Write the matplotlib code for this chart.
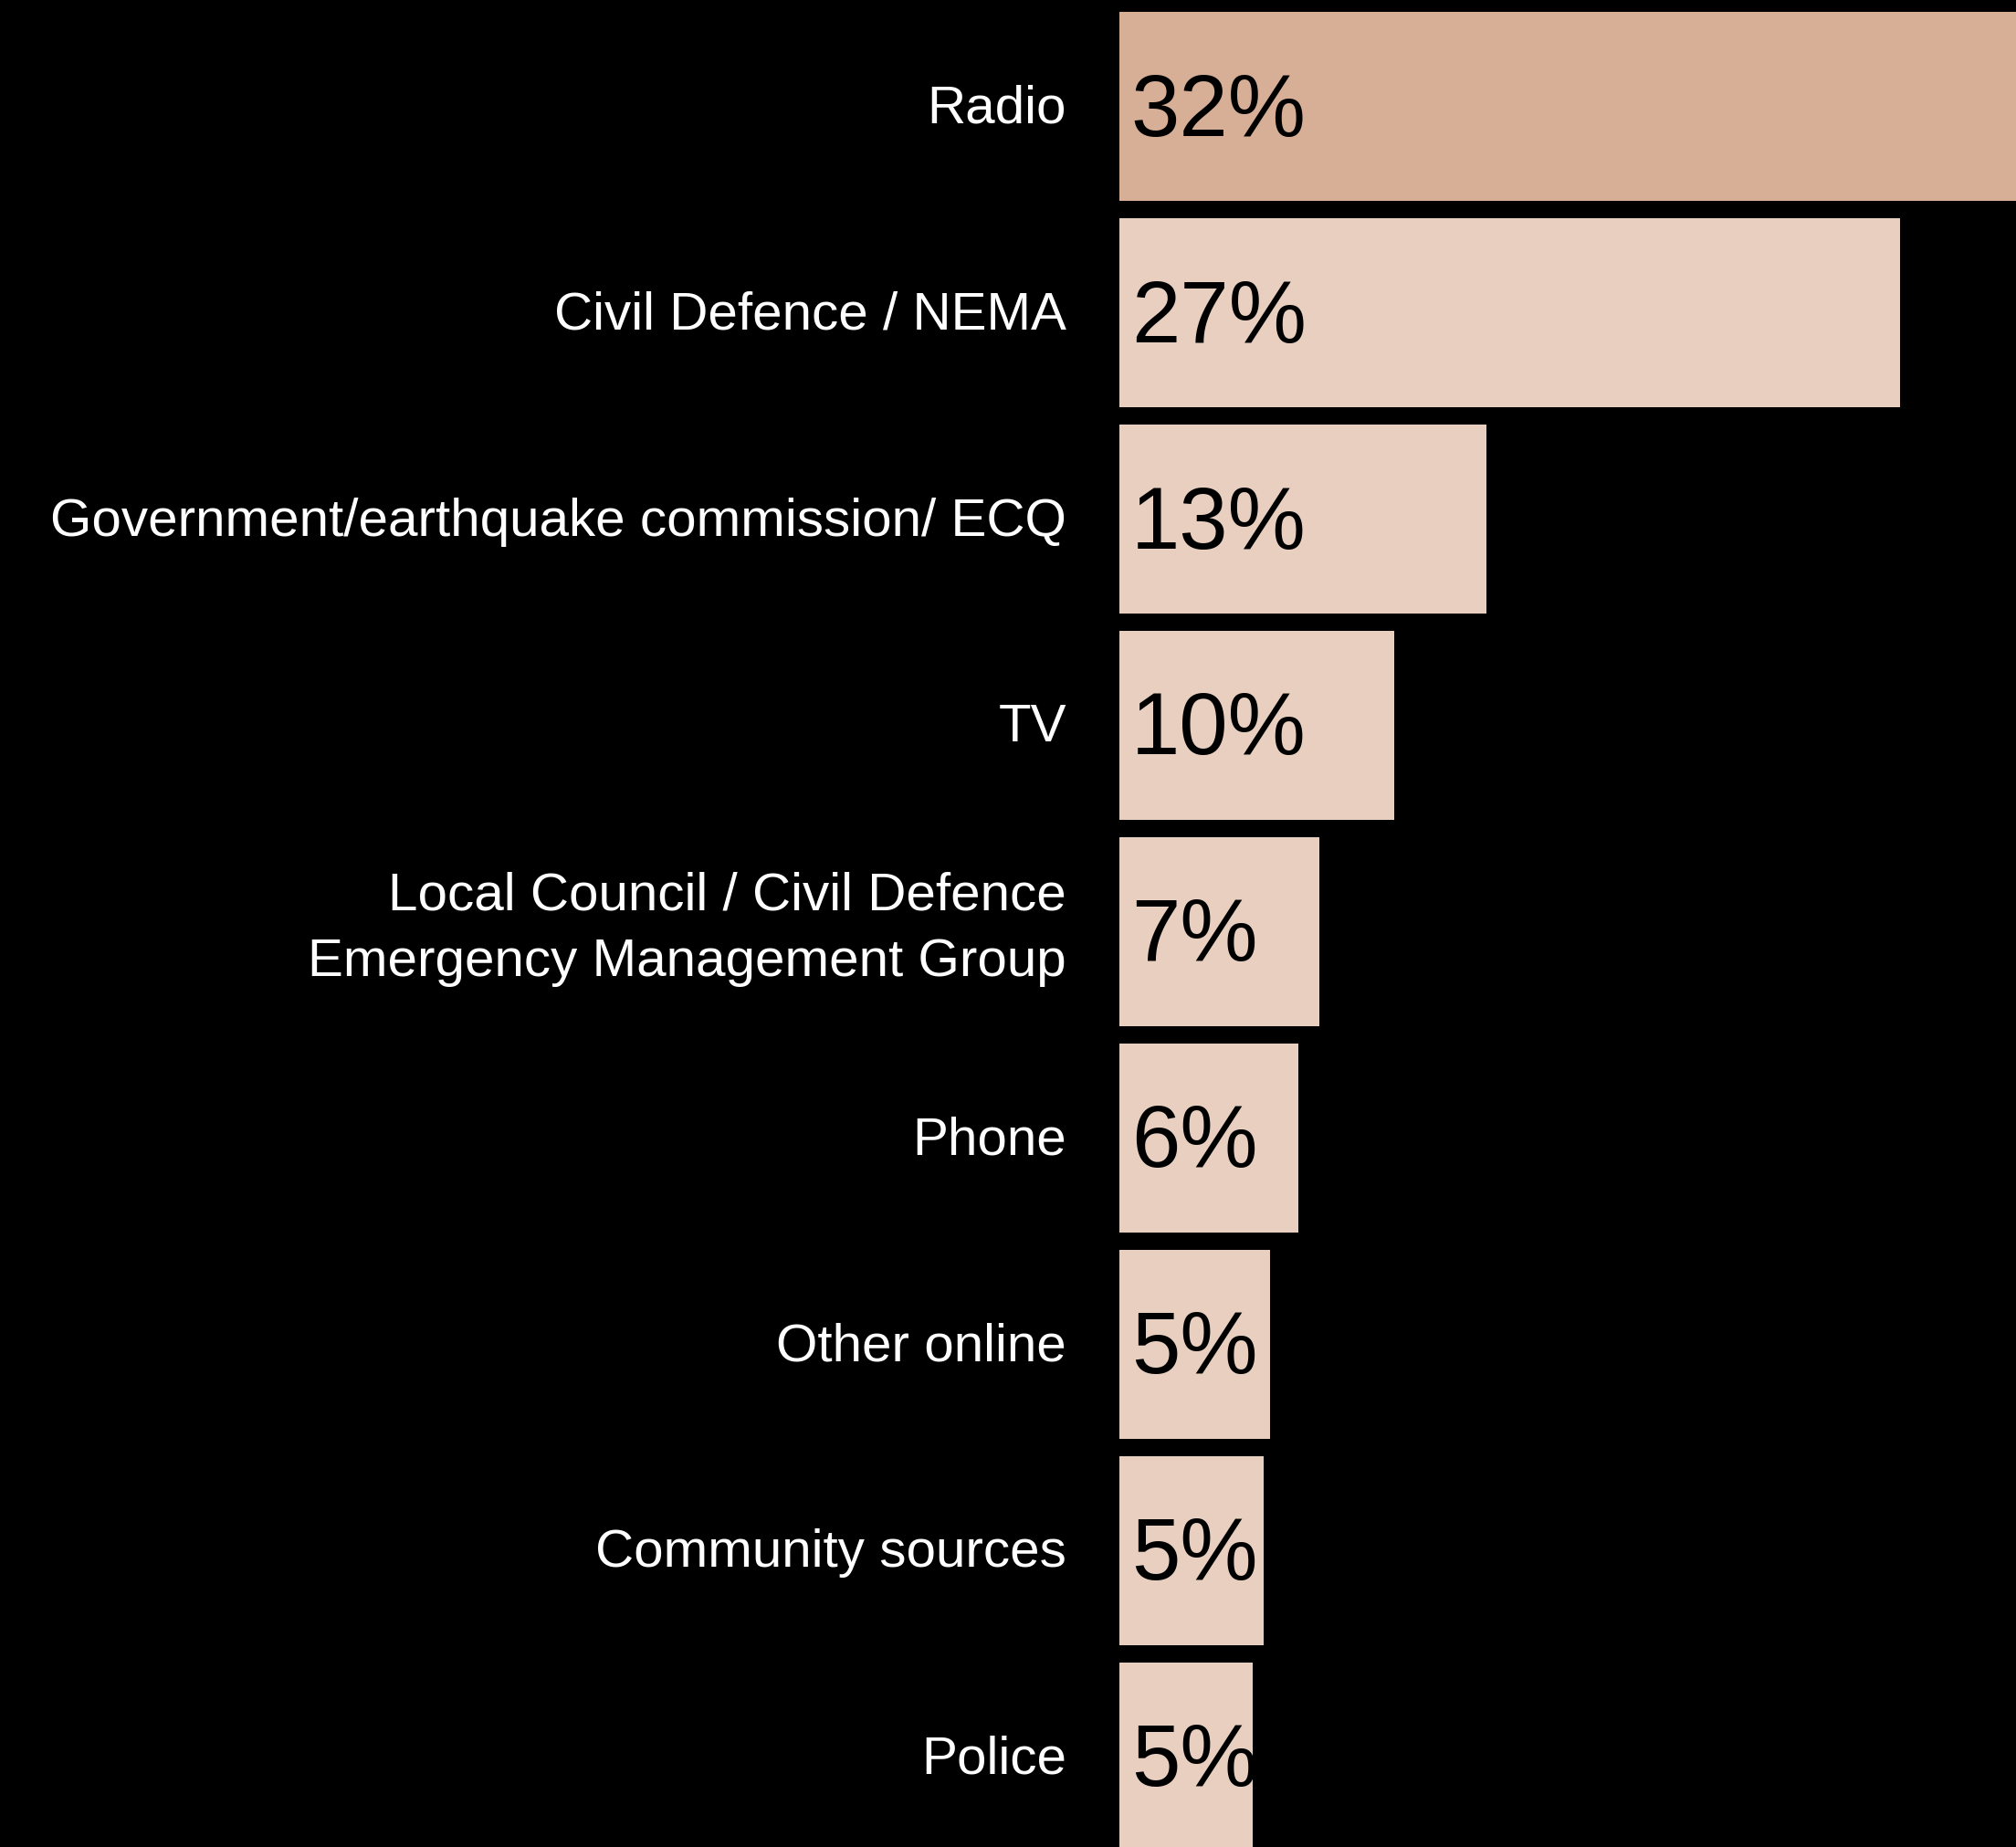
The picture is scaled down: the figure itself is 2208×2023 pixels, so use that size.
import matplotlib.pyplot as plt

plt.rcParams['font.family'] = ['Liberation Sans', 'DejaVu Sans']

sources = [
    "Radio",
    "Civil Defence / NEMA",
    "Government/earthquake commission/ ECQ",
    "TV",
    "Local Council / Civil Defence\nEmergency Management Group",
    "Phone",
    "Other online",
    "Community sources",
    "Police",
]
shares = [32.0, 27.0, 12.7, 9.5, 6.9, 6.2, 5.2, 5.0, 4.6]
colors = ["#d7ae96"] + ["#e8cfc0"] * 8

fig = plt.figure(figsize=(22.08, 20.23), dpi=100, facecolor="black")
ax = fig.add_axes([0.5553, 0.0, 0.4447, 1.0])
ax.set_facecolor("black")

ypos = list(range(len(sources)))
ax.barh(ypos, shares, height=0.916, color=colors, linewidth=0)

# percentage labels sit inside the bars, near the left edge
for y, v in zip(ypos, shares):
    ax.text(0.4, y + 0.03, f"{round(v)}%", ha="left", va="center",
            fontsize=69, color="black")

# category names to the left of the bars
for y, name in zip(ypos, sources):
    dy = 2 if "\n" in name else -2
    ax.annotate(name, xy=(0, y), xytext=(-42, dy), textcoords="offset points",
                ha="right", va="center", fontsize=42, color="white",
                linespacing=1.45, annotation_clip=False)

ax.set_xlim(0, 31.0)
ax.set_ylim(8.436, -0.517)
ax.set_xticks([])
ax.set_yticks([])
for s in ax.spines.values():
    s.set_visible(False)

fig.savefig("out.png", dpi=100, facecolor="black")
